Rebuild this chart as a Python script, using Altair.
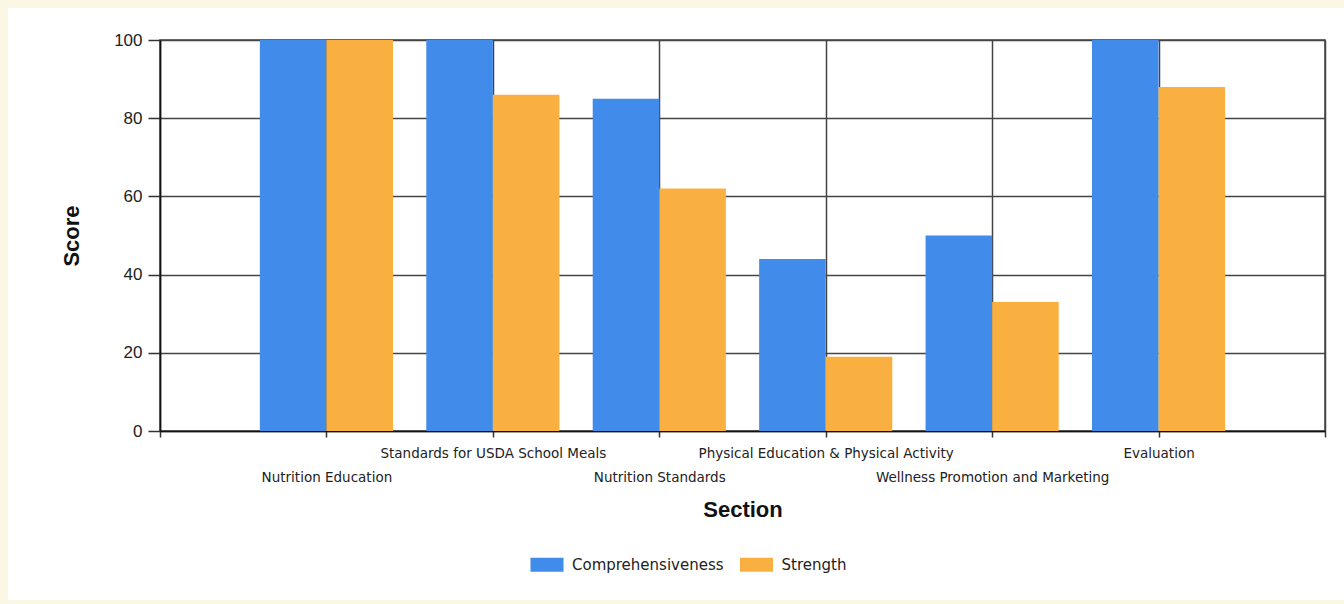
import json
import altair as alt
import pandas as pd

# ---- data ----
sections = [
    "Nutrition Education",
    "Standards for USDA School Meals",
    "Nutrition Standards",
    "Physical Education & Physical Activity",
    "Wellness Promotion and Marketing",
    "Evaluation",
]
comprehensiveness = [100, 100, 85, 44, 50, 100]
strength = [100, 86, 62, 19, 33, 88]
series_names = ["Comprehensiveness", "Strength"]
series_colors = ["#418BEB", "#F9B040"]
y_ticks = [0, 20, 40, 60, 80, 100]

rows = []
for i, s in enumerate(sections):
    rows.append(dict(section=s, idx=i + 1, series=series_names[0], value=comprehensiveness[i]))
    rows.append(dict(section=s, idx=i + 1, series=series_names[1], value=strength[i]))
df = pd.DataFrame(rows)

n = len(sections)
x_ticks = list(range(n + 2))
label_expr = (
    f"datum.value >= 1 && datum.value <= {n} ? {json.dumps(sections)}[datum.value - 1] : ''"
)

W, H = 1165, 391
PAD = {"left": 160, "top": 40, "right": 19, "bottom": 173}

x_axis = alt.Axis(
    values=x_ticks,
    labelExpr=label_expr,
    labelFont="DejaVu Sans",
    labelFontSize=13.5,
    labelColor="#222222",
    labelOverlap=False,
    labelBound=False,
    labelFlush=False,
    labelLimit=0,
    labelPadding={"condition": {"test": "datum.value % 2 == 1", "value": 33}, "value": 9},
    tickSize=6,
    tickColor="#333333",
    tickWidth=1.5,
    grid=True,
    gridColor="#444444",
    gridWidth=1.5,
    domainColor="#111111",
    domainWidth=1.5,
    title="Section",
    titleFont="Liberation Sans",
    titleFontSize=22,
    titleFontWeight="bold",
    titleColor="#111111",
    titlePadding=16,
)

y_axis = alt.Axis(
    values=y_ticks,
    labelFont="Liberation Sans",
    labelFontSize=17,
    labelColor="#222222",
    labelPadding=6,
    tickSize=12,
    tickColor="#333333",
    tickWidth=1.5,
    grid=True,
    gridColor="#444444",
    gridWidth=1.5,
    domainColor="#111111",
    domainWidth=1.5,
    title="Score",
    titleFont="Liberation Sans",
    titleFontSize=22,
    titleFontWeight="bold",
    titleColor="#111111",
    titlePadding=30,
)

bars = (
    alt.Chart(df)
    .transform_calculate(
        x0=f"datum.series == '{series_names[0]}' ? datum.idx - 0.4 : datum.idx",
        x1=f"datum.series == '{series_names[0]}' ? datum.idx : datum.idx + 0.4",
    )
    .mark_bar(strokeWidth=0)
    .encode(
        x=alt.X("x0:Q", scale=alt.Scale(domain=[0, n + 1], nice=False, zero=False, padding=0), axis=x_axis),
        x2="x1:Q",
        y=alt.Y("value:Q", scale=alt.Scale(domain=[0, 100], nice=False, padding=0), axis=y_axis),
        y2=alt.datum(0),
        color=alt.Color(
            "series:N",
            scale=alt.Scale(domain=series_names, range=series_colors),
            title=None,
            legend=alt.Legend(
                orient="none",
                direction="horizontal",
                legendX=379.5,
                legendY=517,
                symbolType="M-2.36,-1H2.36V1H-2.36Z",
                symbolSize=196,
                symbolStrokeWidth=0,
                symbolOpacity=1,
                labelFont="DejaVu Sans",
                labelFontSize=15,
                labelColor="#222222",
                labelOffset=17.5,
                columnPadding=14.5,
                padding=0,
            ),
        ),
        tooltip=["section:N", "series:N", "value:Q"],
    )
)

# decorative beige frame around the white panel
frame = (
    alt.Chart(pd.DataFrame({"f": [0]}))
    .mark_rect(filled=False, stroke="#FAF7E4", strokeWidth=16)
    .encode(
        x=alt.value(-PAD["left"]),
        x2=alt.value(W + PAD["right"] + 8),
        y=alt.value(-PAD["top"]),
        y2=alt.value(H + PAD["bottom"] + 4),
    )
)

chart = (
    alt.layer(bars, frame)
    .properties(width=W, height=H, autosize=alt.AutoSizeParams(type="none"), padding=PAD)
    .configure(background="white")
    .configure_view(stroke="#444444", strokeWidth=1.5)
)

chart.save("out.html", embed_options={"renderer": "svg", "actions": False})
